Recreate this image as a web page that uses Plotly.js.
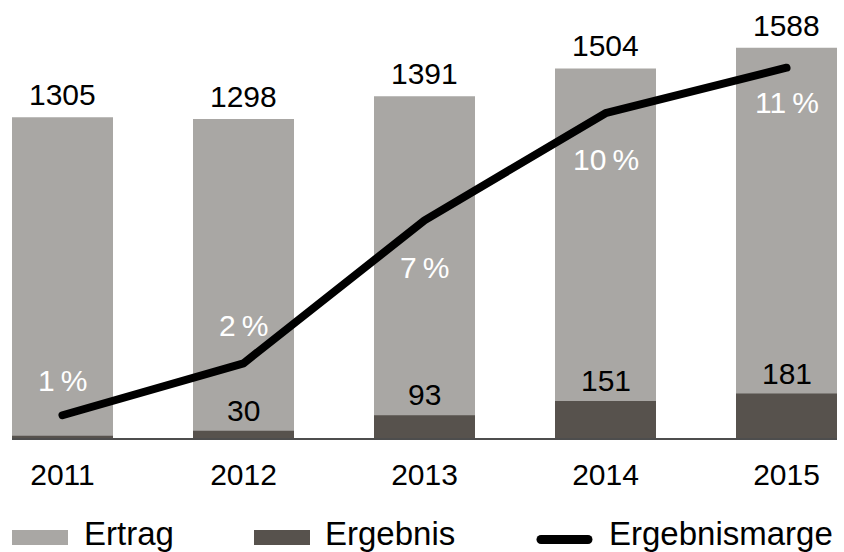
<!DOCTYPE html>
<html>
<head>
<meta charset="utf-8">
<script src="https://cdn.plot.ly/plotly-3.0.1.min.js"></script>
<style>
  html, body { margin: 0; padding: 0; background: #fff; }
  #chart { width: 844px; height: 552px; }
  .scatterlayer .js-line { stroke-linecap: round !important; stroke-linejoin: round !important; }
  .shapelayer path { stroke-linecap: round; }
</style>
</head>
<body>
<div id="chart"></div>
<script>
// ---- data ----
var years = ['2011', '2012', '2013', '2014', '2015'];
var ertrag = [1305, 1298, 1391, 1504, 1588];
var ergebnis = [9, 30, 93, 151, 181];
var marge = [0.7, 2.3, 6.7, 10.0, 11.4];
var margeLabels = ['1\u2009%', '2\u2009%', '7\u2009%', '10\u2009%', '11\u2009%'];
var ergebnisLabels = ['', '30', '93', '151', '181'];
var legendNames = ['Ertrag', 'Ergebnis', 'Ergebnismarge'];

// ---- layout constants ----
var W = 844, H = 552;
var M = { l: 12, r: 7, t: 30, b: 114 };
var plotW = W - M.l - M.r, plotH = H - M.t - M.b;
var pxPerUnit = 0.2457, pxPerPct = 32.48;
var colLight = '#a9a7a4', colDark = '#57524d';
var FONT = 'Liberation Sans, Arial, Helvetica, sans-serif';
var margeShift = [16, 19, -66, -65, -53];

function px(xp) { return (xp - M.l) / plotW; }
function py(yp) { return (H - M.b - yp) / plotH; }

var traces = [
  { type: 'bar', x: years, y: ertrag, name: legendNames[0], marker: { color: colLight }, width: 0.558, hoverinfo: 'none' },
  { type: 'bar', x: years, y: ergebnis, name: legendNames[1], marker: { color: colDark }, width: 0.558, hoverinfo: 'none' },
  { type: 'scatter', mode: 'lines', x: years, y: marge, name: legendNames[2], yaxis: 'y2',
    line: { color: '#000', width: 8 }, hoverinfo: 'none' }
];

var annotations = [];
years.forEach(function (yr, i) {
  // category index i (the labels look numeric, so use the index)
  annotations.push({ x: i, y: ertrag[i], xref: 'x', yref: 'y', text: String(ertrag[i]),
    showarrow: false, yanchor: 'bottom', yshift: 4, font: { size: 30, color: '#000', family: FONT } });
  if (ergebnisLabels[i]) {
    annotations.push({ x: i, y: ergebnis[i], xref: 'x', yref: 'y', text: ergebnisLabels[i],
      showarrow: false, yanchor: 'bottom', yshift: 2, font: { size: 30, color: '#000', family: FONT } });
  }
  annotations.push({ x: i, y: marge[i], xref: 'x', yref: 'y2', text: margeLabels[i],
    showarrow: false, yanchor: 'bottom', yshift: margeShift[i], font: { size: 30, color: '#fff', family: FONT } });
});

// custom legend
var legendItems = [
  { kind: 'rect', x0: 12, x1: 68, color: colLight, tx: 82, text: legendNames[0] },
  { kind: 'rect', x0: 254, x1: 310, color: colDark, tx: 323, text: legendNames[1] },
  { kind: 'line', x0: 541, x1: 588, color: '#000', tx: 607, text: legendNames[2] }
];
var shapes = [];
legendItems.forEach(function (it) {
  if (it.kind === 'rect') {
    shapes.push({ type: 'rect', xref: 'paper', yref: 'paper', x0: px(it.x0), x1: px(it.x1),
      y0: py(545), y1: py(530), fillcolor: it.color, line: { width: 0 } });
  } else {
    shapes.push({ type: 'line', xref: 'paper', yref: 'paper', x0: px(it.x0), x1: px(it.x1),
      y0: py(539.5), y1: py(539.5), line: { color: it.color, width: 9 } });
  }
  annotations.push({ xref: 'paper', yref: 'paper', x: px(it.tx), y: py(533), xanchor: 'left', yanchor: 'middle',
    text: it.text, showarrow: false, font: { size: 33, color: '#000', family: FONT } });
});

var layout = {
  width: W, height: H,
  margin: M,
  paper_bgcolor: '#fff', plot_bgcolor: '#fff',
  font: { family: FONT, color: '#000' },
  showlegend: false,
  barmode: 'overlay',
  xaxis: { type: 'category', range: [-0.279, 4.279], showgrid: false, zeroline: false,
    showline: true, linecolor: '#4d4d4d', linewidth: 1.5, ticks: '',
    tickfont: { size: 30, color: '#000', family: FONT }, ticklabelstandoff: 9, fixedrange: true },
  yaxis: { range: [0, plotH / pxPerUnit], visible: false, showgrid: false, zeroline: false, fixedrange: true },
  yaxis2: { range: [0, plotH / pxPerPct], overlaying: 'y', side: 'right', visible: false,
    showgrid: false, zeroline: false, fixedrange: true },
  annotations: annotations,
  shapes: shapes
};

Plotly.newPlot('chart', traces, layout, { displayModeBar: false, staticPlot: true });
</script>
</body>
</html>
